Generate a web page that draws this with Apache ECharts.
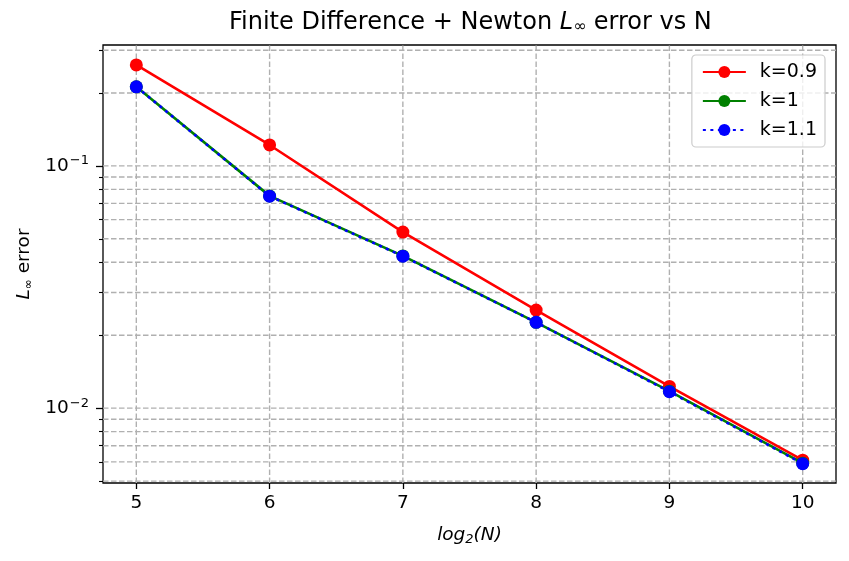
<!DOCTYPE html>
<html><head><meta charset="utf-8">
<script src="https://cdn.jsdelivr.net/npm/echarts@6/dist/echarts.min.js"></script>
<style>html,body{margin:0;padding:0;background:#fff}#c{width:849px;height:561px}</style>
</head><body><div id="c"></div>
<script>
const log2N = [5, 6, 7, 8, 9, 10];
const k09 = [0.261, 0.122, 0.0533, 0.0254, 0.0123, 0.0061];
const k10 = [0.212, 0.0752, 0.0425, 0.0226, 0.01175, 0.00593];
const k11 = [0.212, 0.0750, 0.0424, 0.0226, 0.0117, 0.0059];
const seriesNames = ['k=0.9', 'k=1', 'k=1.1'];
const xTicks = [5, 6, 7, 8, 9, 10];
const yMajorTicks = [0.01, 0.1];
const yMinorTicks = [0.005, 0.006, 0.007, 0.008, 0.009, 0.02, 0.03, 0.04, 0.05, 0.06, 0.07, 0.08, 0.09, 0.2, 0.3];
const yMin = 0.00491, yMax = 0.3155;
const xMin = 4.75, xMax = 10.25;

const F = 'DejaVu Sans';
const chart = echarts.init(document.getElementById('c'), null, {renderer: 'canvas'});
const pairs = ys => log2N.map((x, i) => [x, ys[i]]);
// grid lines built from the tick arrays, drawn through the axes' scales
const gridData = [];
xTicks.forEach(v => { gridData.push([v, yMin], [v, yMax], '-'); });
yMajorTicks.concat(yMinorTicks).forEach(v => { gridData.push([xMin, v], [xMax, v], '-'); });

chart.setOption({
  animation: false,
  backgroundColor: '#fff',
  title: {
    left: 229, top: 10, padding: 0,
    text: '{n|Finite Difference + Newton }{i|L}{sub|∞}{n| error vs N}',
    textStyle: {
      fontWeight: 'normal',
      rich: {
        n: {fontFamily: F, fontSize: 24, fontWeight: 'normal', color: '#000'},
        i: {fontFamily: F, fontSize: 24, fontStyle: 'italic', fontWeight: 'normal', color: '#000'},
        sub: {fontFamily: F, fontSize: 15.5, fontWeight: 'normal', color: '#000', padding: [9, 0, 0, 0]}
      }
    }
  },
  legend: {
    data: seriesNames,
    orient: 'vertical', right: 24, top: 55,
    padding: [7, 8, 7, 10],
    itemGap: 9, itemWidth: 43, itemHeight: 15,
    backgroundColor: 'rgba(255,255,255,0.8)',
    borderColor: '#cccccc', borderWidth: 1.2, borderRadius: 4,
    textStyle: {fontFamily: F, fontSize: 19, color: '#000', lineHeight: 20, padding: [0, 0, 0, 9]}
  },
  grid: {left: 103, right: 13, top: 45, bottom: 78, show: true, borderColor: '#000', borderWidth: 1.3, backgroundColor: 'transparent'},
  xAxis: {
    type: 'value', min: xMin, max: xMax,
    name: '{i|log}{sub|2}{i|(N)}', nameLocation: 'middle', nameGap: 42,
    nameTextStyle: {rich: {
      i: {fontFamily: F, fontSize: 18.5, fontStyle: 'italic', color: '#000'},
      sub: {fontFamily: F, fontSize: 13, fontStyle: 'italic', color: '#000', padding: [8, 0, 0, 0]}
    }},
    axisLine: {show: false},
    axisTick: {show: true, length: 6, customValues: xTicks, lineStyle: {color: '#000', width: 1.3}},
    axisLabel: {customValues: xTicks, fontFamily: F, fontSize: 18.5, color: '#000', margin: 11},
    splitLine: {show: false}
  },
  yAxis: [{
    type: 'log', logBase: 10, min: yMin, max: yMax,
    name: '{i|L}{sub|∞}{n| error}', nameLocation: 'middle', nameGap: 68, nameRotate: 90,
    nameTextStyle: {rich: {
      n: {fontFamily: F, fontSize: 18.5, color: '#000'},
      i: {fontFamily: F, fontSize: 18.5, fontStyle: 'italic', color: '#000'},
      sub: {fontFamily: F, fontSize: 12, color: '#000', padding: [8, 0, 0, 0]}
    }},
    axisLine: {show: false},
    axisTick: {show: true, length: 7, customValues: yMajorTicks, lineStyle: {color: '#000', width: 1.3}},
    axisLabel: {
      customValues: yMajorTicks, margin: 14,
      formatter: v => '{b|10}{s|−' + Math.round(-Math.log10(v)) + '}',
      rich: {
        b: {fontFamily: F, fontSize: 18.5, color: '#000'},
        s: {fontFamily: F, fontSize: 13, color: '#000', padding: [0, 0, 10, 1]}
      }
    },
    splitLine: {show: false}
  }, {
    type: 'log', logBase: 10, min: yMin, max: yMax, position: 'left',
    axisLine: {show: false},
    axisTick: {show: true, length: 4, customValues: yMinorTicks, lineStyle: {color: '#000', width: 1.1}},
    axisLabel: {show: false},
    splitLine: {show: false}
  }],
  series: [{
    type: 'line', data: gridData, symbol: 'none', silent: true, z: 1, connectNulls: false,
    lineStyle: {color: '#b0b0b0', width: 1.4, type: [5.5, 2.5]}
  }, {
    name: seriesNames[0], type: 'line', data: pairs(k09), z: 3,
    symbol: 'circle', symbolSize: 13, color: '#ff0000',
    lineStyle: {color: '#ff0000', width: 2.6}, itemStyle: {color: '#ff0000'}
  }, {
    name: seriesNames[1], type: 'line', data: pairs(k10), z: 4,
    symbol: 'circle', symbolSize: 13, color: '#008000',
    lineStyle: {color: '#008000', width: 2.6}, itemStyle: {color: '#008000'}
  }, {
    name: seriesNames[2], type: 'line', data: pairs(k11), z: 5,
    symbol: 'circle', symbolSize: 13, color: '#0000ff',
    lineStyle: {color: '#0000ff', width: 2.6, type: [3, 4.5], cap: 'butt'}, itemStyle: {color: '#0000ff'}
  }]
});
</script>
</body></html>
